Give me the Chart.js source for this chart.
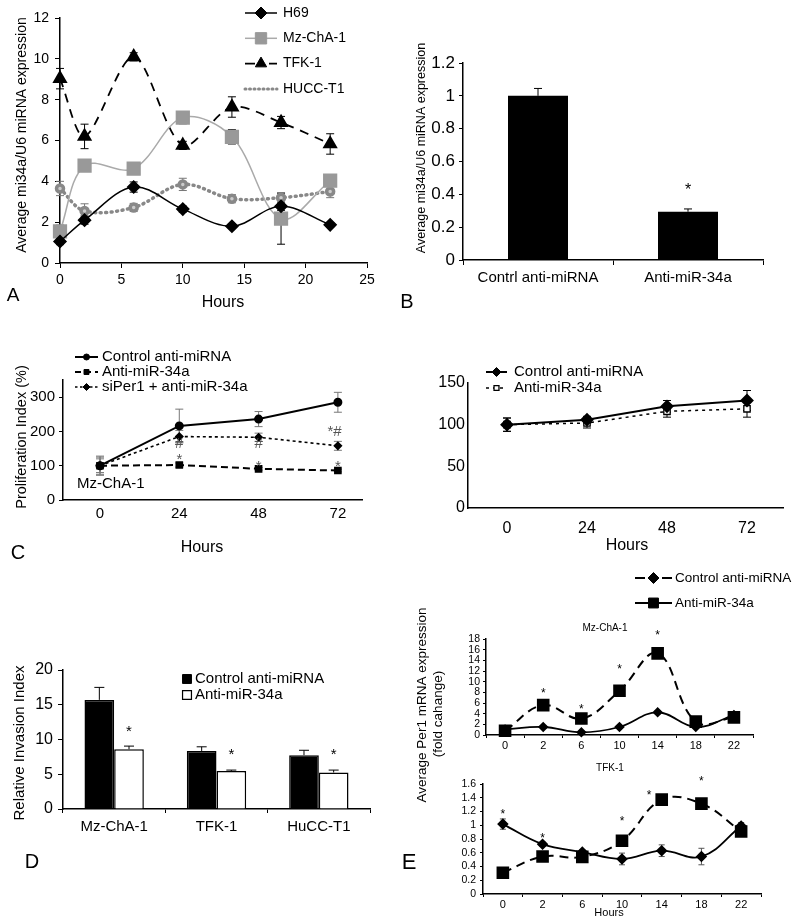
<!DOCTYPE html>
<html>
<head>
<meta charset="utf-8">
<script src="https://cdn.jsdelivr.net/npm/chart.js@4.4.0/dist/chart.umd.min.js"></script>
<style>
  body { margin: 0; background: #fff; width: 800px; height: 921px; position: relative; overflow: hidden; }
  canvas { position: absolute; }
</style>
</head>
<body>
<canvas id="cA" style="left:0;top:0" width="400" height="320"></canvas>
<canvas id="cB" style="left:400px;top:0" width="400" height="320"></canvas>
<canvas id="cC" style="left:0;top:320px" width="400" height="260"></canvas>
<canvas id="cC2" style="left:400px;top:320px" width="400" height="260"></canvas>
<canvas id="cD" style="left:0;top:580px" width="400" height="341"></canvas>
<canvas id="cE1" style="left:400px;top:560px" width="400" height="361"></canvas>
<canvas id="cE2" style="left:400px;top:760px" width="400" height="161"></canvas>
<script>
const FONT = "'Liberation Sans', Arial, sans-serif";
const NARROW = "'Liberation Sans Narrow', 'Liberation Sans', Arial, sans-serif";
Chart.defaults.font.family = FONT;
Chart.defaults.color = '#000';

// A - miR-34a over time
const aHours = [0, 2, 6, 10, 14, 18, 22];
const aH69 = [1.05, 2.1, 3.72, 2.64, 1.8, 2.78, 1.87];
const aH69Err = [0.15, 0.2, 0.25, 0.15, 0.1, 0.2, 0.1];
const aMz = [1.55, 4.77, 4.62, 7.12, 6.18, 2.17, 4.03];
const aMzErr = [0.3, 0.2, 0.25, 0.3, 0.35, 1.25, 0.25];
const aTfk = [9.03, 6.2, 10.1, 5.76, 7.64, 6.88, 5.83];
const aTfkErr = [0.5, 0.6, 0.2, 0.2, 0.5, 0.3, 0.5];
const aHucc = [3.65, 2.55, 2.72, 3.85, 3.15, 3.2, 3.5];
const aHuccErr = [0.35, 0.35, 0.2, 0.3, 0.2, 0.25, 0.3];
const aXTicks = [0, 5, 10, 15, 20, 25];
const aYTicks = [0, 2, 4, 6, 8, 10, 12];

// B - knockdown
const bCats = ['Contrl anti-miRNA', 'Anti-miR-34a'];
const bVals = [1.0, 0.294];
const bErr = [0.045, 0.017];
const bYTicks = [0, 0.2, 0.4, 0.6, 0.8, 1, 1.2];
const bNotes = [{ x: 1, y: 0.445, text: '*' }];

// C - proliferation Mz-ChA-1
const cHours = [0, 24, 48, 72];
const cCtrl = [100, 216, 236, 285];
const cCtrlErr = [25, 49, 22, 29];
const cAnti = [100, 102, 91, 86];
const cAntiErr = [28, 6, 4, 4];
const cSiPer = [100, 185, 183, 158];
const cSiPerErr = [20, 18, 12, 13];
const cYTicks = [0, 100, 200, 300];
const cNotes = [
  { x: 24, y: 164, text: '#' }, { x: 48, y: 164, text: '#' },
  { x: 24, y: 126, text: '*' }, { x: 48, y: 107, text: '*' },
  { x: 72, y: 107, text: '*' }, { x: 71, y: 198, text: '*#' }
];

// C (right) - proliferation
const c2Ctrl = [100, 106, 122, 129];
const c2CtrlErr = [8, 4, 7, 12];
const c2Anti = [100, 102, 116, 119];
const c2AntiErr = [8, 6, 7, 10];
const c2YTicks = [0, 50, 100, 150];

// D - invasion
const dCats = ['Mz-ChA-1', 'TFK-1', 'HuCC-T1'];
const dCtrl = [15.7, 8.35, 7.75];
const dCtrlErr = [1.8, 0.6, 0.7];
const dAnti = [8.6, 5.45, 5.25];
const dAntiErr = [0.45, 0.15, 0.35];
const dYTicks = [0, 5, 10, 15, 20];
const dNotes = [
  { ds: 1, i: 0, y: 11.6, text: '*' }, { ds: 1, i: 1, y: 8.2, text: '*' }, { ds: 1, i: 2, y: 8.2, text: '*' }
];

// E - Per1 expression
const eHours = ['0', '2', '6', '10', '14', '18', '22'];
const eMzCtrl = [1.05, 1.5, 0.5, 1.5, 4.25, 1.5, 3.75];
const eMzCtrlErr = [0.2, 0.2, 0.1, 0.2, 0.3, 0.2, 0.3];
const eMzAnti = [0.8, 5.6, 3.1, 8.3, 15.3, 2.5, 3.3];
const eMzAntiErr = [0.3, 0.4, 0.3, 0.4, 0.7, 0.5, 0.4];
const eMzYTicks = [0, 2, 4, 6, 8, 10, 12, 14, 16, 18];
const eMzNotes = [
  { ds: 1, i: 1, y: 8.2, text: '*' }, { ds: 1, i: 2, y: 5.3, text: '*' },
  { ds: 1, i: 3, y: 12.7, text: '*' }, { ds: 1, i: 4, y: 19.2, text: '*' }
];
const eTfkCtrl = [1.017, 0.725, 0.61, 0.51, 0.63, 0.545, 0.99];
const eTfkCtrlErr = [0.075, 0.03, 0.03, 0.085, 0.085, 0.12, 0.05];
const eTfkAnti = [0.31, 0.545, 0.54, 0.774, 1.372, 1.314, 0.91];
const eTfkAntiErr = [0.02, 0.02, 0.02, 0.07, 0.06, 0.03, 0.03];
const eTfkYTicks = [0, 0.2, 0.4, 0.6, 0.8, 1, 1.2, 1.4, 1.6];
const eTfkNotes = [
  { x: 0, y: 1.19, text: '*' }, { x: 1, y: 0.84, text: '*' }, { x: 3, y: 1.09, text: '*' },
  { x: 3.68, y: 1.47, text: '*' }, { x: 5, y: 1.67, text: '*' }
];

const fmt = v => String(Math.round(v * 10) / 10);
const xy = (xs, ys) => xs.map((x, i) => ({ x, y: ys[i] }));

// error bars drawn through the y scale, under the markers
const errorBars = {
  id: 'errorBars',
  beforeDatasetsDraw(chart) {
    const ctx = chart.ctx;
    chart.data.datasets.forEach((ds, i) => {
      if (!ds.errors) return;
      const meta = chart.getDatasetMeta(i);
      const ys = chart.scales[meta.yAxisID];
      ctx.save();
      ctx.strokeStyle = ds.errColor || '#000';
      ctx.lineWidth = ds.errWidth || 1;
      const cap = ds.errCap || 4;
      meta.data.forEach((el, j) => {
        const e = ds.errors[j];
        if (!e) return;
        const raw = ds.data[j];
        const v = typeof raw === 'object' ? raw.y : raw;
        const top = ys.getPixelForValue(v + e);
        const bot = ys.getPixelForValue(ds.errUp ? v : v - e);
        ctx.beginPath();
        ctx.moveTo(el.x, top); ctx.lineTo(el.x, bot);
        ctx.moveTo(el.x - cap, top); ctx.lineTo(el.x + cap, top);
        if (!ds.errUp) { ctx.moveTo(el.x - cap, bot); ctx.lineTo(el.x + cap, bot); }
        ctx.stroke();
      });
      ctx.restore();
    });
  }
};

function notes(items, size, color) {
  return {
    id: 'notes',
    afterDatasetsDraw(chart) {
      const ctx = chart.ctx, xs = chart.scales.x, ys = chart.scales.y;
      ctx.save();
      ctx.font = size + 'px ' + FONT;
      ctx.fillStyle = color;
      ctx.textAlign = 'center';
      ctx.textBaseline = 'middle';
      items.forEach(n => {
        const px = n.ds !== undefined ? chart.getDatasetMeta(n.ds).data[n.i].x : xs.getPixelForValue(n.x);
        const dy = n.text === '*' ? size * 0.22 : 0;
        ctx.fillText(n.text, px, ys.getPixelForValue(n.y) + dy);
      });
      ctx.restore();
    }
  };
}

function texts(items) {
  return {
    id: 'texts',
    afterDraw(chart) {
      const ctx = chart.ctx;
      items.forEach(t => {
        ctx.save();
        ctx.translate(t.x, t.y);
        ctx.rotate((t.rot || 0) * Math.PI / 180);
        ctx.font = t.size + 'px ' + FONT;
        ctx.fillStyle = t.color || '#000';
        ctx.textAlign = t.align || 'center';
        ctx.textBaseline = 'middle';
        ctx.fillText(t.text, 0, 0);
        ctx.restore();
      });
    }
  };
}

function lineLegend(cfg) {
  return {
    id: 'lineLegend',
    afterDraw(chart) {
      const ctx = chart.ctx;
      cfg.items.forEach((it, k) => {
        const y = cfg.y + k * cfg.rowH;
        const x0 = cfg.x, x1 = cfg.x + cfg.len;
        ctx.save();
        if (it.lineWidth) {
          ctx.strokeStyle = it.color;
          ctx.lineWidth = it.lineWidth;
          ctx.setLineDash(it.dash || []);
          ctx.lineCap = it.cap || 'butt';
          ctx.beginPath(); ctx.moveTo(x0, y); ctx.lineTo(x1, y); ctx.stroke();
        }
        if (it.marker) {
          ctx.setLineDash([]);
          ctx.fillStyle = it.fill;
          ctx.strokeStyle = it.stroke || it.fill;
          ctx.lineWidth = it.borderWidth || 1;
          Chart.helpers.drawPoint(ctx, { pointStyle: it.marker, radius: it.radius, borderWidth: it.borderWidth || 1, rotation: 0 }, (x0 + x1) / 2, y);
        }
        ctx.font = cfg.size + 'px ' + FONT;
        ctx.fillStyle = '#000';
        ctx.textAlign = 'left';
        ctx.textBaseline = 'middle';
        ctx.fillText(it.text, x1 + cfg.gap, y);
        ctx.restore();
      });
    }
  };
}

function axis(o) {
  const a = {
    type: o.type || 'linear',
    offset: !!o.offset,
    afterFit: s => { if (s.isHorizontal()) s.height = o.size; else s.width = o.size; },
    grid: { drawOnChartArea: false, drawTicks: o.tick > 0, tickLength: o.tick || 0, color: '#000', offset: !!o.offset },
    border: { color: '#000', width: 1.5 },
    ticks: { font: { family: o.family || FONT, size: o.font }, padding: o.pad, color: '#000', maxRotation: 0, autoSkip: false }
  };
  if (o.min !== undefined) a.min = o.min;
  if (o.max !== undefined) a.max = o.max;
  if (o.ticks) a.afterBuildTicks = s => { s.ticks = o.ticks.map(v => ({ value: v })); };
  if (o.fmt) a.ticks.callback = o.fmt;
  return a;
}

function make(id, type, data, scales, pad, plugins) {
  return new Chart(document.getElementById(id), {
    type, data,
    options: {
      responsive: false, animation: false, devicePixelRatio: 1,
      layout: { padding: pad },
      plugins: { legend: { display: false }, tooltip: { enabled: false } },
      scales
    },
    plugins: [errorBars].concat(plugins)
  });
}

// ---------- A ----------
make('cA', 'line', {
  datasets: [
    { label: 'H69', data: xy(aHours, aH69), errors: aH69Err, borderColor: '#000', borderWidth: 1.5,
      pointStyle: 'rectRot', pointRadius: 6, pointBackgroundColor: '#000', pointBorderColor: '#000', tension: 0.35, clip: false },
    { label: 'Mz-ChA-1', data: xy(aHours, aMz), errors: aMzErr, borderColor: '#aaa', borderWidth: 1.5,
      pointStyle: 'rect', pointRadius: 9, pointBackgroundColor: '#999', pointBorderColor: '#999', tension: 0.35, clip: false },
    { label: 'TFK-1', data: xy(aHours, aTfk), errors: aTfkErr, borderColor: '#000', borderWidth: 1.8, borderDash: [9, 7],
      pointStyle: 'triangle', pointRadius: 7, pointBackgroundColor: '#000', pointBorderColor: '#000', tension: 0.3, clip: false },
    { label: 'HUCC-T1', data: xy(aHours, aHucc), errors: aHuccErr, errColor: '#777', borderColor: '#888', borderWidth: 3.5,
      borderDash: [1, 4.5], borderCapStyle: 'round', pointStyle: 'circle', pointRadius: 3.5,
      pointBackgroundColor: '#ccc', pointBorderColor: '#888', tension: 0.35, clip: false }
  ]
}, {
  x: axis({ min: 0, max: 25, ticks: aXTicks, size: 57, tick: 5, pad: 4, font: 14, fmt }),
  y: axis({ min: 0, max: 12, ticks: aYTicks, size: 60, tick: 5, pad: 6, font: 14, fmt })
}, { top: 18, right: 33, left: 0, bottom: 0 }, [
  texts([
    { text: 'Average mi34a/U6 miRNA expression', x: 22, y: 135, rot: -90, size: 14 },
    { text: 'Hours', x: 223, y: 303, size: 16 },
    { text: 'A', x: 13, y: 296, size: 19 }
  ]),
  lineLegend({ x: 245, y: 13, rowH: 25.3, len: 32, gap: 6, size: 14, items: [
    { text: 'H69', color: '#000', lineWidth: 1.5, marker: 'rectRot', radius: 6, fill: '#000' },
    { text: 'Mz-ChA-1', color: '#aaa', lineWidth: 1.5, marker: 'rect', radius: 8, fill: '#999' },
    { text: 'TFK-1', color: '#000', lineWidth: 1.8, dash: [10, 14], marker: 'triangle', radius: 6.5, fill: '#000' },
    { text: 'HUCC-T1', color: '#888', lineWidth: 3, dash: [1, 3.5], cap: 'round' }
  ] })
]);

// ---------- B ----------
make('cB', 'bar', {
  labels: bCats,
  datasets: [{ data: bVals, errors: bErr, errUp: true, errCap: 4, backgroundColor: '#000', borderWidth: 0,
    categoryPercentage: 0.4, barPercentage: 1 }]
}, {
  x: axis({ type: 'category', offset: true, size: 60, tick: 5, pad: 4, font: 15 }),
  y: axis({ min: 0, max: 1.2, ticks: bYTicks, size: 63, tick: 4, pad: 4, font: 17, family: NARROW, fmt })
}, { top: 63, right: 37, left: 0, bottom: 0 }, [
  notes(bNotes, 16, '#000'),
  texts([
    { text: 'Average mi34a/U6 miRNA expression', x: 22, y: 148, rot: -90, size: 12.5 },
    { text: 'B', x: 7, y: 302, size: 20 }
  ])
]);

// ---------- C ----------
make('cC', 'line', {
  datasets: [
    { label: 'Control anti-miRNA', data: xy(cHours, cCtrl), errors: cCtrlErr, errColor: '#777', errCap: 4,
      borderColor: '#000', borderWidth: 2, pointStyle: 'circle', pointRadius: 3.5,
      pointBackgroundColor: '#000', pointBorderColor: '#000', tension: 0, clip: false },
    { label: 'Anti-miR-34a', data: xy(cHours, cAnti), errors: cAntiErr, errColor: '#777', errCap: 4,
      borderColor: '#000', borderWidth: 2, borderDash: [7, 4], pointStyle: 'rect', pointRadius: 4,
      pointBackgroundColor: '#000', pointBorderColor: '#000', tension: 0, clip: false },
    { label: 'siPer1 + anti-miR-34a', data: xy(cHours, cSiPer), errors: cSiPerErr, errColor: '#777', errCap: 4,
      borderColor: '#000', borderWidth: 1.6, borderDash: [3, 3], pointStyle: 'rectRot', pointRadius: 3.5,
      pointBackgroundColor: '#000', pointBorderColor: '#000', tension: 0, clip: false }
  ]
}, {
  x: axis({ min: -11.2, max: 79.3, ticks: cHours, size: 80, tick: 0, pad: 5, font: 15, fmt }),
  y: axis({ min: 0, max: 350, ticks: cYTicks, size: 63, tick: 4, pad: 4, font: 15, fmt })
}, { top: 60, right: 38, left: 0, bottom: 0 }, [
  notes(cNotes, 15, '#555'),
  texts([
    { text: 'Proliferation Index (%)', x: 22, y: 117, rot: -90, size: 14.5 },
    { text: 'Hours', x: 202, y: 228, size: 16 },
    { text: 'C', x: 18, y: 233, size: 20 },
    { text: 'Mz-ChA-1', x: 77, y: 164, size: 15, align: 'left' }
  ]),
  lineLegend({ x: 75, y: 37, rowH: 15, len: 23, gap: 4, size: 15, items: [
    { text: 'Control anti-miRNA', color: '#000', lineWidth: 2, marker: 'circle', radius: 3, fill: '#000' },
    { text: 'Anti-miR-34a', color: '#000', lineWidth: 2, dash: [6, 4], marker: 'rect', radius: 3.5, fill: '#000' },
    { text: 'siPer1 + anti-miR-34a', color: '#000', lineWidth: 1.5, dash: [2.5, 2.5], marker: 'rectRot', radius: 3.5, fill: '#000' }
  ] })
]);

// ---------- C (right) ----------
make('cC2', 'line', {
  datasets: [
    { label: 'Control anti-miRNA', data: xy(cHours, c2Ctrl), errors: c2CtrlErr, errCap: 4,
      borderColor: '#000', borderWidth: 2, pointStyle: 'rectRot', pointRadius: 5.5,
      pointBackgroundColor: '#000', pointBorderColor: '#000', tension: 0, clip: false },
    { label: 'Anti-miR-34a', data: xy(cHours, c2Anti), errors: c2AntiErr, errCap: 4,
      borderColor: '#000', borderWidth: 1.5, borderDash: [3, 4], pointStyle: 'rect', pointRadius: 4.5,
      pointBackgroundColor: '#fff', pointBorderColor: '#000', pointBorderWidth: 1.3, tension: 0, clip: false }
  ]
}, {
  x: axis({ min: -11.7, max: 82.8, ticks: cHours, size: 72, tick: 0, pad: 11, font: 16, fmt }),
  y: axis({ min: 0, max: 150, ticks: c2YTicks, size: 68, tick: 0, pad: 3, font: 16, fmt })
}, { top: 63, right: 17, left: 0, bottom: 0 }, [
  texts([{ text: 'Hours', x: 227, y: 226, size: 16 }]),
  lineLegend({ x: 86, y: 52, rowH: 16, len: 21, gap: 7, size: 15, items: [
    { text: 'Control anti-miRNA', color: '#000', lineWidth: 2, marker: 'rectRot', radius: 4.5, fill: '#000' },
    { text: 'Anti-miR-34a', color: '#000', lineWidth: 1.5, dash: [3, 4], marker: 'rect', radius: 3.5, fill: '#fff', stroke: '#000', borderWidth: 1.3 }
  ] })
]);

// ---------- D ----------
make('cD', 'bar', {
  labels: dCats,
  datasets: [
    { label: 'Control anti-miRNA', data: dCtrl, errors: dCtrlErr, errUp: true, errCap: 5,
      backgroundColor: '#000', borderColor: '#000', borderWidth: 1.5, categoryPercentage: 0.58, barPercentage: 1 },
    { label: 'Anti-miR-34a', data: dAnti, errors: dAntiErr, errUp: true, errCap: 5,
      backgroundColor: '#fff', borderColor: '#000', borderWidth: 1.5, categoryPercentage: 0.58, barPercentage: 1 }
  ]
}, {
  x: axis({ type: 'category', offset: true, size: 112, tick: 4, pad: 5, font: 15 }),
  y: axis({ min: 0, max: 20, ticks: dYTicks, size: 63, tick: 5, pad: 5, font: 16, fmt })
}, { top: 90, right: 30, left: 0, bottom: 0 }, [
  notes(dNotes, 15, '#000'),
  texts([
    { text: 'Relative Invasion Index', x: 20, y: 163, rot: -90, size: 15 },
    { text: 'D', x: 32, y: 282, size: 20 }
  ]),
  lineLegend({ x: 187, y: 99, rowH: 16, len: 0, gap: 8, size: 15, items: [
    { text: 'Control anti-miRNA', marker: 'rect', radius: 6.3, fill: '#000' },
    { text: 'Anti-miR-34a', marker: 'rect', radius: 6.3, fill: '#fff', stroke: '#000', borderWidth: 1.2 }
  ] })
]);

// ---------- E (Mz-ChA-1) ----------
make('cE1', 'line', {
  labels: eHours,
  datasets: [
    { label: 'Control anti-miRNA', data: eMzCtrl, errors: eMzCtrlErr, errColor: '#555', errCap: 3,
      borderColor: '#000', borderWidth: 1.8, pointStyle: 'rectRot', pointRadius: 4,
      pointBackgroundColor: '#000', pointBorderColor: '#000', tension: 0.4, clip: false },
    { label: 'Anti-miR-34a', data: eMzAnti, errors: eMzAntiErr, errColor: '#555', errCap: 3,
      borderColor: '#000', borderWidth: 2, borderDash: [9, 6], pointStyle: 'rect', pointRadius: 7.5,
      pointBackgroundColor: '#000', pointBorderColor: '#000', tension: 0.4, clip: false }
  ]
}, {
  x: axis({ type: 'category', offset: true, size: 186, tick: 3, pad: 1, font: 11 }),
  y: axis({ min: 0, max: 18, ticks: eMzYTicks, size: 86, tick: 3, pad: 3, font: 10.5, fmt })
}, { top: 79, right: 47, left: 0, bottom: 0 }, [
  notes(eMzNotes, 12, '#000'),
  texts([
    { text: 'Mz-ChA-1', x: 205, y: 68, size: 10 },
    { text: 'Average Per1 mRNA expression', x: 22, y: 145, rot: -90, size: 13.5 },
    { text: '(fold cahange)', x: 38, y: 154, rot: -90, size: 13.5 }
  ]),
  lineLegend({ x: 235, y: 18, rowH: 25, len: 37, gap: 3, size: 13.5, items: [
    { text: 'Control anti-miRNA', color: '#000', lineWidth: 2, dash: [10, 17], marker: 'rectRot', radius: 5.5, fill: '#000' },
    { text: 'Anti-miR-34a', color: '#000', lineWidth: 2, marker: 'rect', radius: 7, fill: '#000' }
  ] })
]);

// ---------- E (TFK-1) ----------
make('cE2', 'line', {
  labels: eHours,
  datasets: [
    { label: 'Control anti-miRNA', data: eTfkCtrl, errors: eTfkCtrlErr, errColor: '#555', errCap: 3,
      borderColor: '#000', borderWidth: 1.8, pointStyle: 'rectRot', pointRadius: 4.5,
      pointBackgroundColor: '#000', pointBorderColor: '#000', tension: 0.4, clip: false },
    { label: 'Anti-miR-34a', data: eTfkAnti, errors: eTfkAntiErr, errColor: '#555', errCap: 3,
      borderColor: '#000', borderWidth: 2, borderDash: [9, 6], pointStyle: 'rect', pointRadius: 7.5,
      pointBackgroundColor: '#000', pointBorderColor: '#000', tension: 0.4, clip: false }
  ]
}, {
  x: axis({ type: 'category', offset: true, size: 27, tick: 3, pad: 1, font: 11 }),
  y: axis({ min: 0, max: 1.6, ticks: eTfkYTicks, size: 83, tick: 3, pad: 4, font: 10.5, fmt })
}, { top: 24, right: 39, left: 0, bottom: 0 }, [
  notes(eTfkNotes, 12, '#000'),
  texts([
    { text: 'TFK-1', x: 210, y: 8, size: 10 },
    { text: 'Hours', x: 209, y: 153, size: 11 },
    { text: 'E', x: 9, y: 103, size: 22 }
  ])
]);
</script>
</body>
</html>
